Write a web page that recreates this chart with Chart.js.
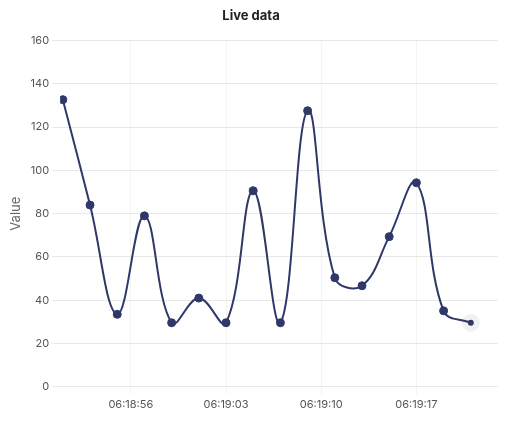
<!DOCTYPE html>
<html><head><meta charset="utf-8">
<script src="https://cdn.jsdelivr.net/npm/chart.js@4"></script>
<style>html,body{margin:0;background:#fff}#wrap{width:522px;height:426px}</style>
</head><body><div id="wrap"><canvas id="c"></canvas></div>
<script>
// seconds after 06:18:00
const times = [51,53,55,57,59,61,63,65,67,69,71,73,75,77,79,81];
const values = [132.7,84,33.5,79,29.6,41,29.6,90.6,29.6,127.6,50.4,46.7,69.4,94.3,35.1,29.6];
const tickSecs = [56,63,70,77];
const yTicks = [0,20,40,60,80,100,120,140,160];

const fmt = s => `06:${String(18+Math.floor(s/60)).padStart(2,'0')}:${String(s%60).padStart(2,'0')}`;
const navy = '#2f3868';
const last = values.length - 1;

new Chart(document.getElementById('c'), {
  type: 'line',
  data: { datasets: [{
    label: 'Value',
    data: times.map((t,i)=>({x:t, y:values[i]})),
    borderColor: navy, backgroundColor: navy, borderWidth: 2, tension: 0.4,
    pointRadius: values.map((_,i)=> i===last ? 3 : 4),
    pointHoverRadius: 4,
    pointBorderWidth: values.map((_,i)=> i===last ? 12 : 1),
    pointBorderColor: values.map((_,i)=> i===last ? 'rgba(47,56,104,0.07)' : navy)
  }]},
  options: {
    responsive: true, maintainAspectRatio: false, animation: false,
    layout: { padding: { left: 4, right: 24, top: 0, bottom: 12 } },
    plugins: {
      legend: { display: false },
      title: { display: true, text: 'Live data', color: '#222', font: { family: 'Inter', size: 13, weight: 'bold' }, padding: { top: 8, bottom: 17 } }
    },
    scales: {
      x: { type: 'linear', min: 50.8, max: 83,
        afterBuildTicks: a => { a.ticks = tickSecs.map(v=>({value:v})); },
        ticks: { callback: v => fmt(v), color: '#555', font: { family: 'Inter', size: 11 }, maxRotation: 0 },
        grid: { color: '#f4f4f4' }, border: { display: false } },
      y: { min: 0, max: 160,
        afterBuildTicks: a => { a.ticks = yTicks.map(v=>({value:v})); },
        ticks: { color: '#555', font: { family: 'Inter', size: 11 } },
        title: { display: true, text: 'Value', color: '#666', font: { family: 'Inter', size: 13 } },
        grid: { color: '#e8e8e8' }, border: { display: false } }
    }
  }
});
</script></body></html>
